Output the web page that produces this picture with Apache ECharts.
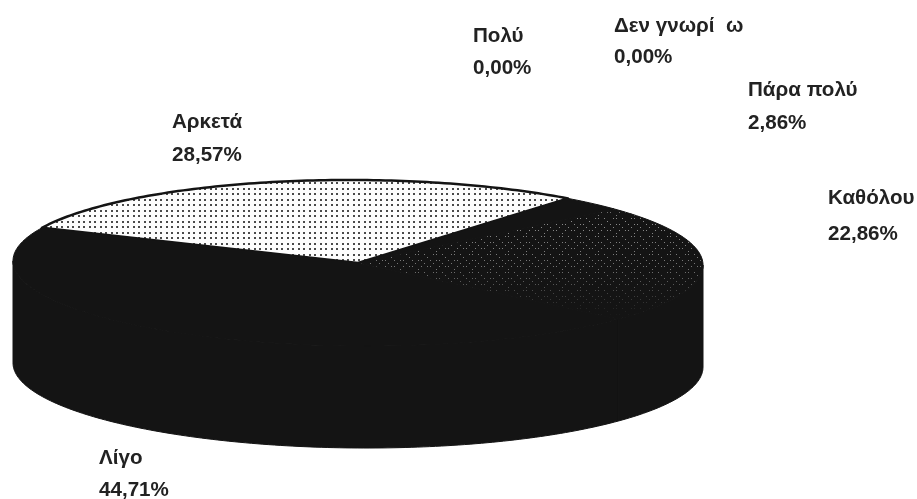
<!DOCTYPE html>
<html><head><meta charset="utf-8">
<style>html,body{margin:0;padding:0;background:#fff}#c{width:917px;height:499px}</style>
<script src="https://cdn.jsdelivr.net/npm/echarts@6/dist/echarts.min.js"></script>
</head><body><div id="c"></div>
<script>
const categories = ['Αρκετά','Λίγο','Καθόλου','Πάρα πολύ','Δεν γνωρί  ω','Πολύ'];
const values = [28.57,44.71,22.86,2.86,0,0];

const INK='#141414';
const labelPos = [[172,122],[99,458],[828,198],[748,90],[614,26],[473,36]];
const labelGap = [33,32,36,33,31,32];
const geo = {cx:358,cy:263,rx:345,ry:83,depth:102,start:52.5,tilt:0.006};

function tile(size,bg,dots,color,r){
  const c=document.createElement('canvas');c.width=c.height=size;
  const g=c.getContext('2d');g.fillStyle=bg;g.fillRect(0,0,size,size);
  g.fillStyle=color;
  dots.forEach(d=>g.fillRect(d[0],d[1],r,r));
  return c;
}
const lightTile = tile(11,'#fdfdfd',[[1,1],[6,1],[1,6],[6,6]],'#4a4a4a',2);
const darkTile = tile(18,'#141414',[[1,2],[4,2],[10,2],[13,5],[4,8],[7,8],[16,8],[1,11],[10,11],[13,14],[7,14],[16,14],[4,17]],'#b4b4b4',1);

const total = values.reduce((a,b)=>a+b,0);
function rim(a,dy){
  const t=a*Math.PI/180;
  const c=Math.cos(t)*geo.rx;
  return [geo.cx+c, geo.cy-geo.ry*Math.sin(t)+(dy||0)+c*geo.tilt];
}
function arc(a0,a1,dy){
  const pts=[];const n=Math.max(2,Math.ceil(Math.abs(a1-a0)));
  for(let i=0;i<=n;i++)pts.push(rim(a0+(a1-a0)*i/n,dy));
  return pts;
}
function renderItem(params,api){
  const idx=params.dataIndex;
  let before=0;
  for(let i=0;i<idx;i++)before+=values[i];
  const v=api.value(1);
  const a0=geo.start+before/total*360, a1=a0+v/total*360;
  const kids=[];
  if(v>0){
    const top=[[geo.cx,geo.cy]].concat(arc(a0,a1));
    // visible wall: the part of the span lying in the front half of the ellipse
    [[180,360],[540,720]].forEach(w=>{
      const s=Math.max(a0,w[0]),e=Math.min(a1,w[1]);
      if(e>s){
        const wall=arc(s,e).concat(arc(e,s,geo.depth));
        kids.push({type:'polygon',shape:{points:wall},style:{fill:INK,stroke:INK,lineWidth:1}});
      }
    });
    const fill = idx===0?{image:lightTile,repeat:'repeat'}
               : idx===2?{image:darkTile,repeat:'repeat'}:INK;
    kids.push({type:'polygon',shape:{points:top},
      style:{fill:fill,stroke:INK,lineWidth:idx===0?2.5:1,lineJoin:'round'}});
    if(idx===2){
      kids.push({type:'polygon',shape:{points:top},style:{
        fill:new echarts.graphic.LinearGradient(0,195,0,318,[
          {offset:0,color:'rgba(20,20,20,0.9)'},
          {offset:0.2,color:'rgba(20,20,20,0.25)'},
          {offset:0.6,color:'rgba(20,20,20,0.4)'},
          {offset:1,color:'rgba(20,20,20,1)'}],true)}});
    }
  }
  const p=labelPos[idx];
  const font='bold 20.6px "Liberation Sans"';
  kids.push({type:'text',z2:10,style:{x:p[0],y:p[1],text:categories[idx],
    font:font,fill:'#222',textAlign:'left',textVerticalAlign:'middle'}});
  kids.push({type:'text',z2:10,style:{x:p[0],y:p[1]+labelGap[idx],text:v.toFixed(2).replace('.',',')+'%',
    font:font,fill:'#222',textAlign:'left',textVerticalAlign:'middle'}});
  return {type:'group',children:kids};
}
const chart=echarts.init(document.getElementById('c'),null,{renderer:'canvas'});
chart.setOption({
  animation:false,backgroundColor:'#fff',
  xAxis:{show:false},yAxis:{show:false},
  series:[{type:'custom',coordinateSystem:'none',renderItem:renderItem,silent:true,
    data:categories.map((c,i)=>[i,values[i]])}]
});
</script></body></html>
